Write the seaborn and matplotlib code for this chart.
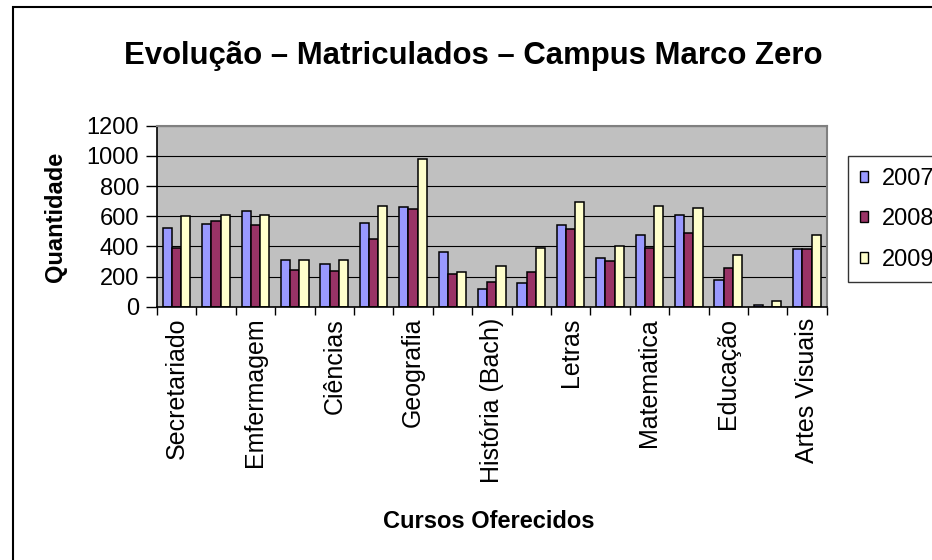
import pandas as pd
import matplotlib
matplotlib.use("Agg")
import matplotlib.pyplot as plt
import seaborn as sns
from matplotlib.patches import Patch, Rectangle

# dados do grafico
cursos = ["Secretariado", "", "Emfermagem", "", "Ciências", "", "Geografia", "",
          "História (Bach)", "", "Letras", "", "Matematica", "", "Educação", "",
          "Artes Visuais"]
anos = ["2007", "2008", "2009"]
mat_2007 = [520, 545, 635, 310, 285, 555, 660, 360, 115, 155, 540, 320, 475, 605, 180, 8, 385]
mat_2008 = [390, 570, 540, 245, 235, 450, 645, 215, 165, 230, 515, 305, 390, 490, 255, 0, 385]
mat_2009 = [600, 610, 610, 310, 310, 670, 980, 230, 270, 390, 695, 400, 670, 655, 345, 40, 475]
cores = ["#9999FF", "#993366", "#FFFFCC"]

df = pd.DataFrame({
    "grupo": list(range(len(cursos))) * 3,
    "ano": [a for a in anos for _ in cursos],
    "qtd": mat_2007 + mat_2008 + mat_2009,
})

plt.rcParams['font.family'] = ['Liberation Sans', 'DejaVu Sans']

fig = plt.figure(figsize=(9.32, 5.6), dpi=100)
W, H = 932, 560
ax = fig.add_axes([157 / W, 1 - 306.7 / H, 669.7 / W, 181 / H])
ax.set_facecolor('#C0C0C0')

sns.barplot(data=df, x='grupo', y='qtd', hue='ano', palette=cores, width=0.7,
            edgecolor='black', linewidth=1.1, saturation=1, errorbar=None,
            legend=False, ax=ax)

ax.set_xlim(-0.5, len(cursos) - 0.5)
ax.set_ylim(0, 1200)
ax.set_yticks(range(0, 1201, 200))
ax.yaxis.grid(True, color='black', linewidth=0.8)
ax.set_axisbelow(True)

ax.set_xticks(range(len(cursos)))
ax.set_xticklabels(cursos, rotation=90, fontsize=18)
ax.set_xticks([i - 0.5 for i in range(len(cursos) + 1)], minor=True)
ax.tick_params(axis='x', which='major', length=0, pad=8)
ax.tick_params(axis='x', which='minor', length=6, width=1, color='black')
ax.tick_params(axis='y', labelsize=17, length=8, width=1, color='black', pad=5)

for lado in ['top', 'right']:
    ax.spines[lado].set_color('#808080')
    ax.spines[lado].set_linewidth(1.5)
for lado in ['left', 'bottom']:
    ax.spines[lado].set_color('black')
    ax.spines[lado].set_linewidth(1.2)

ax.set_xlabel('')
ax.set_ylabel('')

fig.text(473.5 / W, 1 - 64 / H, 'Evolução – Matriculados – Campus Marco Zero',
         ha='center', va='baseline', fontsize=22.4, fontweight='bold')
fig.text(55 / W, 1 - 217 / H, 'Quantidade', rotation=90, ha='center', va='center',
         fontsize=17, fontweight='bold')
fig.text(489 / W, 1 - 528 / H, 'Cursos Oferecidos', ha='center', va='baseline',
         fontsize=17, fontweight='bold')

handles = [Patch(facecolor=c, edgecolor='black', linewidth=1, label=a)
           for c, a in zip(cores, anos)]
leg = fig.legend(handles=handles, loc='upper left',
                 bbox_to_anchor=(848 / W, 1 - 156 / H), bbox_transform=fig.transFigure,
                 frameon=True, fancybox=False, edgecolor='black', fontsize=17,
                 handlelength=0.35, handleheight=0.35, handletextpad=0.6,
                 labelspacing=0.78, borderpad=0.5, borderaxespad=0)
leg.get_frame().set_linewidth(1)

fig.add_artist(Rectangle((13 / W, -0.05), 1.0, (1 - 7 / H) + 0.05,
                         transform=fig.transFigure, fill=False,
                         edgecolor='black', linewidth=1.5))

fig.savefig('out.png', dpi=100)
